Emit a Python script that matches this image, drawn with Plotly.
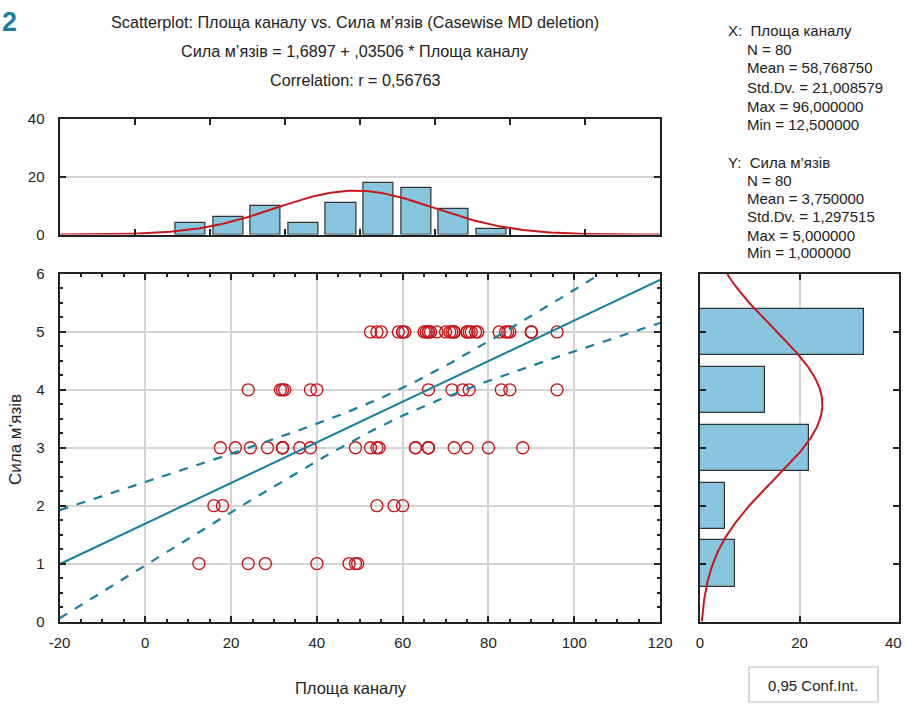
import numpy as np
import plotly.graph_objects as go

# ---------------- data ----------------
# scatter points (x = Площа каналу, y = Сила м'язів)
x_y1 = [12.5, 24, 28, 40, 47.5, 49, 49.5]
x_y2 = [16, 18, 54, 58, 60]
x_y3 = [17.5, 21, 24.5, 28.5, 32, 32, 32, 36, 38.5, 49, 52.5, 54, 54.5,
        63, 63, 66, 66, 66, 72, 75, 80, 88]
x_y4 = [24, 31.5, 32, 32.5, 38.5, 40, 66, 71.5, 74, 75.5, 83, 85, 96]
x_y5 = [52.5, 54, 55, 59, 60, 60, 60.5, 65, 65.5, 66, 66, 66.5, 68, 70, 71,
        71.5, 72, 72, 72, 75, 75, 75.5, 76, 77, 77.5, 82.5, 84, 84.5, 85,
        90, 90, 90, 96]

# marginal histogram of X (bins of width 10)
hx_centers = [15, 25, 35, 45, 55, 65, 75, 85, 95]
hx_counts = [4, 6, 10, 4, 11, 18, 16, 9, 2]
# marginal histogram of Y
hy_values = [1, 2, 3, 4, 5]
hy_counts = [7, 5, 22, 13, 33]

# tick labels
main_x_ticks = [-20, 0, 20, 40, 60, 80, 100, 120]
main_x_labels = ["-20", "0", "20", "40", "60", "80", "100", "120"]
right_x_ticks = [0, 20, 40]
right_x_labels = ["0", "20", ""]   # last label "40" placed as text at the edge
right_x_last = "40"

# summary statistics (as printed)
N = 80
x_mean, x_sd, x_max, x_min = 58.768750, 21.008579, 96.0, 12.5
y_mean, y_sd, y_max, y_min = 3.75, 1.297515, 5.0, 1.0
b0, b1, r = 1.6897, 0.03506, 0.56763
t_crit = 1.9908  # t(0.975, 78)

xs, ys = [], []
for lvl, arr in zip([1, 2, 3, 4, 5], [x_y1, x_y2, x_y3, x_y4, x_y5]):
    xs += arr
    ys += [lvl] * len(arr)

# ---------------- derived curves ----------------
xg = np.linspace(-20, 120, 300)
yhat = b0 + b1 * xg
s_res = y_sd * np.sqrt(1 - r ** 2) * np.sqrt((N - 1) / (N - 2))
sxx = (N - 1) * x_sd ** 2
half = t_crit * s_res * np.sqrt(1 / N + (xg - x_mean) ** 2 / sxx)

xh = np.linspace(-20, 140, 300)
nx = N * 10 / (x_sd * np.sqrt(2 * np.pi)) * np.exp(-0.5 * ((xh - x_mean) / x_sd) ** 2)
yh = np.linspace(0, 6, 300)
ny = N * 1 / (y_sd * np.sqrt(2 * np.pi)) * np.exp(-0.5 * ((yh - y_mean) / y_sd) ** 2)

W, H = 905, 710
def px(v): return v / W
def py(v): return 1 - v / H

TEAL = "#157f9f"
RED = "#c8161d"
BAR = "#88c5df"
FONT = "Liberation Sans, Arial, sans-serif"
TXT = "#222222"

fig = go.Figure()

# main scatter
fig.add_trace(go.Scatter(x=xs, y=ys, mode="markers", xaxis="x", yaxis="y",
                         marker=dict(symbol="circle-open", size=12, color=RED,
                                     line=dict(width=1.4, color=RED)),
                         showlegend=False, hoverinfo="x+y"))
fig.add_trace(go.Scatter(x=xg, y=yhat, mode="lines", xaxis="x", yaxis="y",
                         line=dict(color=TEAL, width=2), showlegend=False))
fig.add_trace(go.Scatter(x=xg, y=yhat + half, mode="lines", xaxis="x", yaxis="y",
                         line=dict(color=TEAL, width=2.2, dash="dash"), showlegend=False))
fig.add_trace(go.Scatter(x=xg, y=yhat - half, mode="lines", xaxis="x", yaxis="y",
                         line=dict(color=TEAL, width=2.2, dash="dash"), showlegend=False))

# top histogram
fig.add_trace(go.Bar(x=hx_centers, y=hx_counts, width=8, xaxis="x2", yaxis="y2",
                     marker=dict(color=BAR, line=dict(color="#333333", width=1.2)),
                     showlegend=False))
fig.add_trace(go.Scatter(x=xh, y=nx, mode="lines", xaxis="x2", yaxis="y2",
                         line=dict(color=RED, width=2), showlegend=False))

# right histogram
fig.add_trace(go.Bar(y=hy_values, x=hy_counts, width=0.8, orientation="h",
                     xaxis="x3", yaxis="y3",
                     marker=dict(color=BAR, line=dict(color="#333333", width=1.2)),
                     showlegend=False))
fig.add_trace(go.Scatter(x=ny, y=yh, mode="lines", xaxis="x3", yaxis="y3",
                         line=dict(color=RED, width=2), showlegend=False))

axis_common = dict(showline=True, linecolor="#222222", linewidth=2, mirror="ticks",
                   ticks="inside", ticklen=6, tickcolor="#222222", tickwidth=1.5,
                   zeroline=False, gridcolor="#d4d4d4", gridwidth=1.5, automargin=False,
                   ticklabeloverflow="allow",
                   tickfont=dict(size=15, color=TXT, family=FONT))

main_x = [px(59.5), px(660)]
main_y = [py(621.5), py(274)]

fig.update_layout(
    template="none",
    width=W, height=H, margin=dict(l=0, r=0, t=0, b=0, pad=0),
    paper_bgcolor="white", plot_bgcolor="white",
    font=dict(family=FONT, size=15, color=TXT),
    bargap=0,
    xaxis=dict(domain=main_x, anchor="y", range=[-20, 120], tickvals=main_x_ticks,
               ticktext=main_x_labels, showgrid=True, ticklabelstandoff=6,
               minor=dict(dtick=5, ticks="inside", ticklen=3, tickcolor="#222222"),
               **axis_common),
    yaxis=dict(domain=main_y, anchor="x", range=[0, 6], dtick=1, showgrid=True,
               ticklabelstandoff=10,
               minor=dict(dtick=0.25, ticks="inside", ticklen=3, tickcolor="#222222"),
               **axis_common),
    xaxis2=dict(domain=main_x, anchor="y2", range=[-20, 140], dtick=20, showgrid=False,
                showticklabels=False, **axis_common),
    yaxis2=dict(domain=[py(234.5), py(119)], anchor="x2", range=[0, 40], dtick=20,
                showgrid=True, ticklabelstandoff=10, **axis_common),
    xaxis3=dict(domain=[px(700), px(899)], anchor="y3", range=[0, 40],
                tickvals=right_x_ticks, ticktext=right_x_labels,
                showgrid=True, ticklabelstandoff=6, **axis_common),
    yaxis3=dict(domain=main_y, anchor="x3", range=[0, 6], dtick=1, showgrid=False,
                showticklabels=False, **axis_common),
)

ann = []
def add_text(x, y, text, size=15, xanchor="center", color=TXT, **kw):
    ann.append(dict(x=px(x), y=py(y), xref="paper", yref="paper", text=text,
                    showarrow=False, xanchor=xanchor, yanchor="middle",
                    font=dict(size=size, color=color, family=FONT), **kw))

add_text(0, 22, "<b>2</b>", size=27, color="#1a7fa0", xanchor="left")
add_text(355, 22, "Scatterplot: Площа каналу vs. Сила м’язів (Casewise MD deletion)", size=16.2)
add_text(355, 51, "Сила м’язів = 1,6897 + ,03506 * Площа каналу", size=16.2)
add_text(355, 80, "Correlation: r = 0,56763", size=16.2)

stats_x = ["X:  Площа каналу", f"N = {N}", "Mean = 58,768750", "Std.Dv. = 21,008579",
           "Max = 96,000000", "Min = 12,500000"]
stats_y = ["Y:  Сила м’язів", f"N = {N}", "Mean = 3,750000", "Std.Dv. = 1,297515",
           "Max = 5,000000", "Min = 1,000000"]
ys_x = [31, 49, 68, 87, 106, 125]
ys_y = [162, 180, 198, 216, 235, 253]
for i, (t, yy) in enumerate(zip(stats_x, ys_x)):
    add_text(726 if i == 0 else 745, yy, t, size=15, xanchor="left")
for i, (t, yy) in enumerate(zip(stats_y, ys_y)):
    add_text(726 if i == 0 else 745, yy, t, size=15, xanchor="left")

add_text(904, 642, right_x_last, size=15, xanchor="right")
add_text(351, 688, "Площа каналу", size=16.5)
ann.append(dict(x=px(16), y=py(440), xref="paper", yref="paper", text="Сила м’язів",
                showarrow=False, textangle=-90, xanchor="center", yanchor="middle",
                font=dict(size=17, color=TXT, family=FONT)))
add_text(813, 685, "0,95 Conf.Int.", size=15)

fig.update_layout(annotations=ann)
fig.add_shape(type="rect", xref="paper", yref="paper", x0=px(749), x1=px(878),
              y0=py(702), y1=py(667), line=dict(color="#bbbbbb", width=1.2),
              fillcolor="rgba(0,0,0,0)")

fig.write_html("out.html",
               config={"displayModeBar": False},
               post_script="document.body.style.margin='0px';"
                           "document.body.style.overflow='hidden';")
